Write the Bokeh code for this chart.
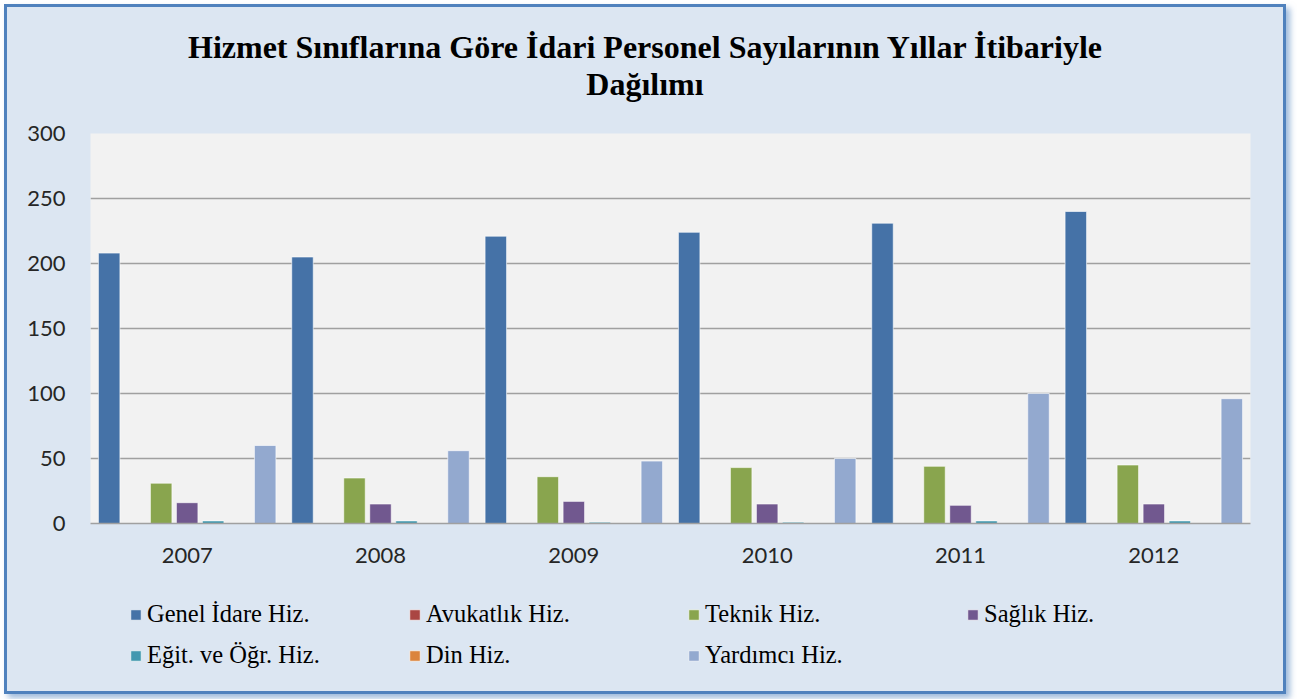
from bokeh.plotting import figure
from bokeh.models import (ColumnDataSource, FixedTicker, Legend, LegendItem, Div)
from bokeh.layouts import column, row
from bokeh.transform import dodge
from bokeh.embed import file_html
from bokeh.resources import INLINE

years = ["2007", "2008", "2009", "2010", "2011", "2012"]
series_names = ["Genel İdare Hiz.", "Avukatlık Hiz.", "Teknik Hiz.", "Sağlık Hiz.",
                "Eğit. ve Öğr. Hiz.", "Din Hiz.", "Yardımcı Hiz."]
genel = [208, 205, 221, 224, 231, 240]
avukatlik = [0, 0, 0, 0, 0, 0]
teknik = [31, 35, 36, 43, 44, 45]
saglik = [16, 15, 17, 15, 14, 15]
egitim = [2, 2, 1, 1, 2, 2]
din = [0, 0, 0, 0, 0, 0]
yardimci = [60, 56, 48, 50, 100, 96]
colors = ["#4572A7", "#AA4643", "#89A54E", "#71588F", "#4198AF", "#DB843D", "#93A9CF"]
y_ticks = [0, 50, 100, 150, 200, 250, 300]
title_lines = ["Hizmet Sınıflarına Göre İdari Personel Sayılarının Yıllar İtibariyle", "Dağılımı"]

BG = "#DCE6F2"
series = [genel, avukatlik, teknik, saglik, egitim, din, yardimci]
keys = ["s%d" % i for i in range(len(series))]
data = {"year": years}
for k, s in zip(keys, series):
    data[k] = s
src = ColumnDataSource(data)

W = 1276
title = Div(text="<br>".join(title_lines), width=W, height=101, margin=0,
            styles={"text-align": "center", "font-family": "Liberation Serif",
                    "font-weight": "bold", "font-size": "32px", "line-height": "37px",
                    "color": "#000000", "padding-top": "22px", "box-sizing": "border-box",
                    "background-color": BG})

p = figure(x_range=years, y_range=(0, 300), width=W, height=472, margin=0,
           output_backend="svg", toolbar_location=None,
           min_border_left=83, min_border_right=33, min_border_top=25, min_border_bottom=57)
p.border_fill_color = BG
p.background_fill_color = "#F2F2F2"
p.outline_line_color = None

slot = 26 / 193.33
bw = 21.5 / 193.33
for i, (k, c) in enumerate(zip(keys, colors)):
    p.vbar(x=dodge("year", (i - 3) * slot, range=p.x_range), top=k, width=bw,
           source=src, fill_color=c, line_color="white", line_alpha=0.6, line_width=1)

p.xgrid.grid_line_color = None
p.ygrid.grid_line_color = "#A0A0A0"
p.ygrid.grid_line_width = 1.5
p.yaxis.ticker = FixedTicker(ticks=y_ticks)
p.yaxis.axis_line_color = None
p.yaxis.major_tick_line_color = None
p.yaxis.minor_tick_line_color = None
p.yaxis.major_label_standoff = 19
p.xaxis.axis_line_color = "#A0A0A0"
p.xaxis.axis_line_width = 1.5
p.xaxis.major_tick_line_color = None
p.xaxis.minor_tick_line_color = None
p.xaxis.major_label_standoff = 18
for ax in (p.xaxis, p.yaxis):
    ax.major_label_text_font = "Lato"
    ax.major_label_text_font_size = "22px"
    ax.major_label_text_color = "#262626"

# legend figure, wrapped in its own row so its frame spans its whole canvas
lg = figure(x_range=(0, 1), y_range=(0, 1), width=W, height=111, margin=0,
            output_backend="svg", toolbar_location=None,
            min_border_left=0, min_border_right=0, min_border_top=0, min_border_bottom=0)
lg.axis.visible = False
lg.grid.visible = False
lg.outline_line_color = None
lg.border_fill_alpha = 0
lg.background_fill_alpha = 0
items = []
for name, c in zip(series_names, colors):
    r = lg.vbar(x=[5], top=[5], width=0.1, fill_color=c, line_color="white",
                line_alpha=0.6, line_width=1)
    items.append(LegendItem(label=name, renderers=[r]))
legend = Legend(items=items, location=(122, 21), orientation="horizontal", ncols=4,
                padding=0, margin=0, spacing=11, label_width=250, label_height=30,
                glyph_width=13, glyph_height=13, label_standoff=5,
                border_line_color=None, background_fill_alpha=0,
                label_text_font="Liberation Serif", label_text_font_size="24.5px",
                label_text_color="#000000")
lg.add_layout(legend, "center")

layout = column(title, p, row(lg, spacing=0, margin=0), spacing=0)
layout.styles = {"border": "3px solid #4F81BD", "margin-left": "4px", "margin-top": "4px",
                 "background-color": BG,
                 "box-shadow": "4px 4px 6px rgba(79,129,189,0.55)"}

open("out.html", "w").write(file_html(layout, INLINE))
